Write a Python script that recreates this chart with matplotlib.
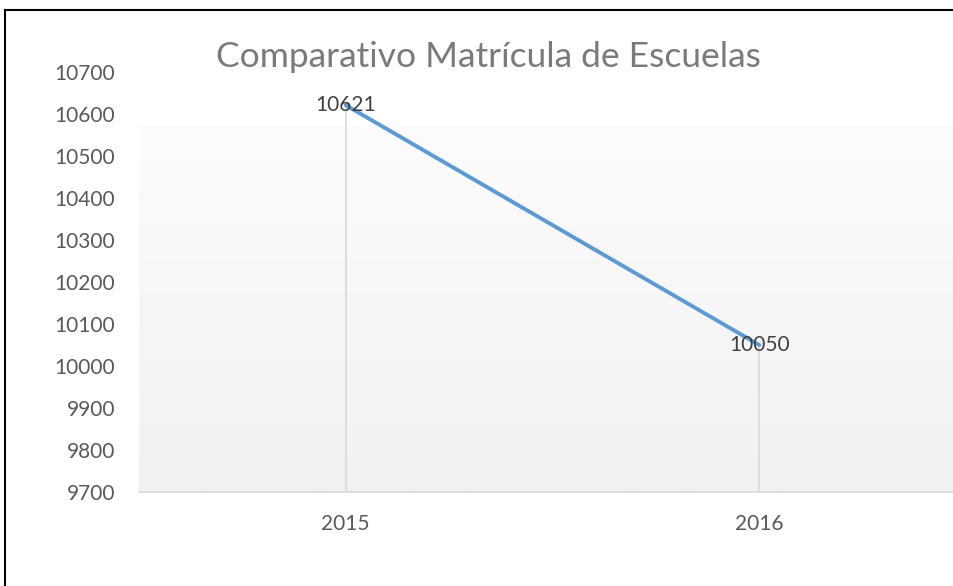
import matplotlib.pyplot as plt
import numpy as np
from matplotlib.lines import Line2D
from matplotlib.colors import LinearSegmentedColormap

plt.rcParams['font.family'] = ['Lato', 'DejaVu Sans']

# data
years = ["2015", "2016"]
matricula = [10621, 10050]
y_ticks = [9700, 9800, 9900, 10000, 10100, 10200, 10300, 10400, 10500, 10600, 10700]

fig = plt.figure(figsize=(9.54, 5.86), dpi=100)
ax = fig.add_axes([139 / 954, 1 - 492 / 586, 827 / 954, 420 / 586])

x = np.arange(len(years))

ax.set_xlim(-0.5, 1.5)
ax.set_ylim(9700, 10700)

# soft gradient behind the plot area, white at top to light grey at bottom
grad = np.linspace(0, 1, 256).reshape(-1, 1)
cmap = LinearSegmentedColormap.from_list("bg", ["#fcfcfc", "#f1f1f1"])
ax.imshow(grad, cmap=cmap, extent=(-0.5, 1.5, 9700, 10570),
          aspect="auto", origin="upper", zorder=0)

# drop lines
ax.vlines(x, 9700, matricula, color="#d9d9d9", lw=1.2, zorder=1)
ax.plot(x, matricula, color="#5b9bd5", lw=2.8, solid_capstyle="round", zorder=3)

for xi, v in zip(x, matricula):
    ax.text(xi, v, str(v), ha="center", va="center", fontsize=15,
            color="#404040", zorder=4)

ax.set_xticks(x)
ax.set_xticklabels(years)
ax.set_yticks(y_ticks)
ax.tick_params(axis="both", length=0, labelsize=15, labelcolor="#595959")
ax.tick_params(axis="y", pad=17)
ax.tick_params(axis="x", pad=16)

for s in ["top", "right", "left"]:
    ax.spines[s].set_visible(False)
ax.spines["bottom"].set_color("#d9d9d9")
ax.spines["bottom"].set_linewidth(1.2)
ax.set_facecolor("white")

fig.text(488 / 954, 1 - 57 / 586, "Comparativo Matrícula de Escuelas",
         ha="center", va="center", fontsize=25.5, color="#7a7a7a")

# outer border (left and top visible)
fig.add_artist(Line2D([5.5 / 954, 5.5 / 954], [0, 1 - 10 / 586],
                      transform=fig.transFigure, color="black", lw=1.5))
fig.add_artist(Line2D([5.5 / 954, 1], [1 - 10 / 586, 1 - 10 / 586],
                      transform=fig.transFigure, color="black", lw=1.5))

fig.savefig("out.png", dpi=100)
